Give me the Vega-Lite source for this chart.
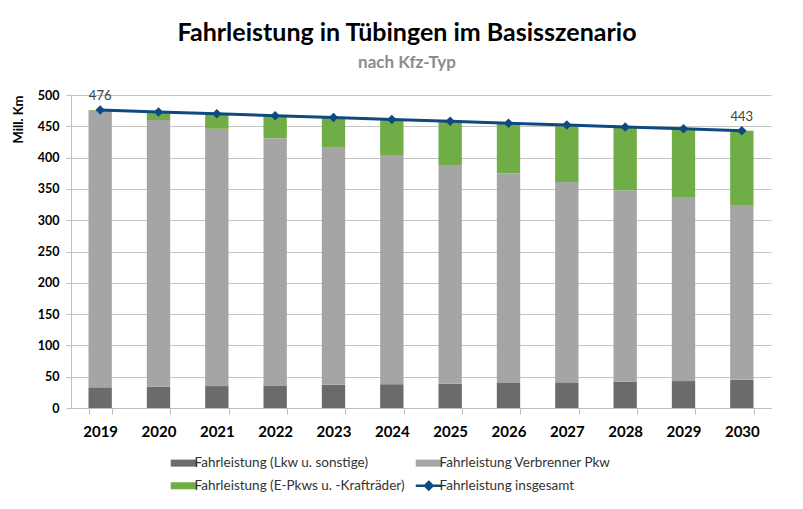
{
  "$schema": "https://vega.github.io/schema/vega-lite/v6.json",
  "width": 700,
  "height": 313,
  "autosize": {"type": "none"},
  "padding": {"left": 71, "top": 95, "right": 32, "bottom": 101},
  "background": "white",
  "title": {
    "text": "Fahrleistung in Tübingen im Basisszenario",
    "subtitle": "nach Kfz-Typ",
    "font": "Lato", "fontSize": 25, "fontWeight": "bold", "color": "#000000",
    "subtitleFont": "Lato", "subtitleFontSize": 17, "subtitleFontWeight": "bold", "subtitleColor": "#8c8c8c",
    "anchor": "middle", "dx": -14, "offset": 18, "subtitlePadding": 9
  },
  "config": {
    "view": {"stroke": null},
    "axis": {"labelFont": "Lato", "titleFont": "Lato"},
    "legend": {"labelFont": "Lato"}
  },
  "datasets": {
    "bars": [
      {"year": "2019", "serie": "Fahrleistung (Lkw u. sonstige)", "k": 1, "value": 33},
      {"year": "2019", "serie": "Fahrleistung Verbrenner Pkw", "k": 2, "value": 442},
      {"year": "2019", "serie": "Fahrleistung (E-Pkws u. -Krafträder)", "k": 3, "value": 1},
      {"year": "2020", "serie": "Fahrleistung (Lkw u. sonstige)", "k": 1, "value": 34},
      {"year": "2020", "serie": "Fahrleistung Verbrenner Pkw", "k": 2, "value": 426},
      {"year": "2020", "serie": "Fahrleistung (E-Pkws u. -Krafträder)", "k": 3, "value": 13},
      {"year": "2021", "serie": "Fahrleistung (Lkw u. sonstige)", "k": 1, "value": 35},
      {"year": "2021", "serie": "Fahrleistung Verbrenner Pkw", "k": 2, "value": 411},
      {"year": "2021", "serie": "Fahrleistung (E-Pkws u. -Krafträder)", "k": 3, "value": 24},
      {"year": "2022", "serie": "Fahrleistung (Lkw u. sonstige)", "k": 1, "value": 36},
      {"year": "2022", "serie": "Fahrleistung Verbrenner Pkw", "k": 2, "value": 395},
      {"year": "2022", "serie": "Fahrleistung (E-Pkws u. -Krafträder)", "k": 3, "value": 36},
      {"year": "2023", "serie": "Fahrleistung (Lkw u. sonstige)", "k": 1, "value": 37},
      {"year": "2023", "serie": "Fahrleistung Verbrenner Pkw", "k": 2, "value": 380},
      {"year": "2023", "serie": "Fahrleistung (E-Pkws u. -Krafträder)", "k": 3, "value": 47},
      {"year": "2024", "serie": "Fahrleistung (Lkw u. sonstige)", "k": 1, "value": 38},
      {"year": "2024", "serie": "Fahrleistung Verbrenner Pkw", "k": 2, "value": 365},
      {"year": "2024", "serie": "Fahrleistung (E-Pkws u. -Krafträder)", "k": 3, "value": 58},
      {"year": "2025", "serie": "Fahrleistung (Lkw u. sonstige)", "k": 1, "value": 39},
      {"year": "2025", "serie": "Fahrleistung Verbrenner Pkw", "k": 2, "value": 349},
      {"year": "2025", "serie": "Fahrleistung (E-Pkws u. -Krafträder)", "k": 3, "value": 70},
      {"year": "2026", "serie": "Fahrleistung (Lkw u. sonstige)", "k": 1, "value": 40},
      {"year": "2026", "serie": "Fahrleistung Verbrenner Pkw", "k": 2, "value": 335},
      {"year": "2026", "serie": "Fahrleistung (E-Pkws u. -Krafträder)", "k": 3, "value": 80},
      {"year": "2027", "serie": "Fahrleistung (Lkw u. sonstige)", "k": 1, "value": 41},
      {"year": "2027", "serie": "Fahrleistung Verbrenner Pkw", "k": 2, "value": 320},
      {"year": "2027", "serie": "Fahrleistung (E-Pkws u. -Krafträder)", "k": 3, "value": 91},
      {"year": "2028", "serie": "Fahrleistung (Lkw u. sonstige)", "k": 1, "value": 42},
      {"year": "2028", "serie": "Fahrleistung Verbrenner Pkw", "k": 2, "value": 306},
      {"year": "2028", "serie": "Fahrleistung (E-Pkws u. -Krafträder)", "k": 3, "value": 101},
      {"year": "2029", "serie": "Fahrleistung (Lkw u. sonstige)", "k": 1, "value": 43},
      {"year": "2029", "serie": "Fahrleistung Verbrenner Pkw", "k": 2, "value": 293},
      {"year": "2029", "serie": "Fahrleistung (E-Pkws u. -Krafträder)", "k": 3, "value": 110},
      {"year": "2030", "serie": "Fahrleistung (Lkw u. sonstige)", "k": 1, "value": 45},
      {"year": "2030", "serie": "Fahrleistung Verbrenner Pkw", "k": 2, "value": 278},
      {"year": "2030", "serie": "Fahrleistung (E-Pkws u. -Krafträder)", "k": 3, "value": 120}
    ],
    "total": [
      {"year": "2019", "serie": "Fahrleistung insgesamt", "value": 476},
      {"year": "2020", "serie": "Fahrleistung insgesamt", "value": 473},
      {"year": "2021", "serie": "Fahrleistung insgesamt", "value": 470},
      {"year": "2022", "serie": "Fahrleistung insgesamt", "value": 467},
      {"year": "2023", "serie": "Fahrleistung insgesamt", "value": 464},
      {"year": "2024", "serie": "Fahrleistung insgesamt", "value": 461},
      {"year": "2025", "serie": "Fahrleistung insgesamt", "value": 458},
      {"year": "2026", "serie": "Fahrleistung insgesamt", "value": 455},
      {"year": "2027", "serie": "Fahrleistung insgesamt", "value": 452},
      {"year": "2028", "serie": "Fahrleistung insgesamt", "value": 449},
      {"year": "2029", "serie": "Fahrleistung insgesamt", "value": 446},
      {"year": "2030", "serie": "Fahrleistung insgesamt", "value": 443}
    ]
  },
  "encoding": {
    "x": {
      "field": "year", "type": "ordinal",
      "scale": {"paddingInner": 0.6, "paddingOuter": 0.3},
      "axis": {
        "title": null, "labelAngle": 0, "labelFontSize": 15, "labelFontWeight": "bold", "labelColor": "#000000",
        "labelPadding": 10, "tickBand": "extent", "tickSize": 6, "tickColor": "#bfbfbf",
        "domainColor": "#bfbfbf", "grid": false
      }
    },
    "y": {
      "field": "value", "type": "quantitative",
      "scale": {"domain": [0, 500], "nice": false},
      "axis": {
        "title": "Mill. Km", "titleFontSize": 13, "titleFontWeight": "bold", "titleColor": "#000000",
        "titleAnchor": "end", "titlePadding": 12,
        "values": [0, 50, 100, 150, 200, 250, 300, 350, 400, 450, 500],
        "labelFontSize": 12.5, "labelFontWeight": "bold", "labelColor": "#000000", "labelPadding": 7,
        "tickSize": 5, "tickColor": "#bfbfbf", "domainColor": "#bfbfbf",
        "grid": true, "gridColor": "#c4c4c4"
      }
    }
  },
  "layer": [
    {
      "data": {"name": "bars"},
      "mark": {"type": "bar"},
      "encoding": {
        "y": {"field": "value", "type": "quantitative", "stack": "zero"},
        "order": {"field": "k", "type": "quantitative"},
        "color": {
          "field": "serie", "type": "nominal",
          "scale": {
            "domain": ["Fahrleistung (Lkw u. sonstige)", "Fahrleistung Verbrenner Pkw", "Fahrleistung (E-Pkws u. -Krafträder)", "Fahrleistung insgesamt"],
            "range": ["#6b6b6b", "#a5a5a5", "#70ad47", "#0e4a80"]
          },
          "legend": {
            "title": null, "orient": "none", "legendX": 106, "legendY": 361,
            "columns": 2, "direction": "horizontal", "columnPadding": 5, "rowPadding": 7,
            "symbolSize": 625, "labelOffset": 4, "labelFontSize": 13.5, "labelColor": "#333333", "labelLimit": 400,
            "symbolOpacity": 1,
            "encode": {
              "symbols": {
                "update": {
                  "shape": {"signal": "datum.value === 'Fahrleistung insgesamt' ? 'M-1.04,0H1.04M0,-0.3L0.3,0L0,0.3L-0.3,0Z' : 'M-1.04,-0.28H1.04V0.28H-1.04Z'"},
                  "strokeWidth": {"signal": "datum.value === 'Fahrleistung insgesamt' ? 2.5 : 0"},
                  "fill": {"signal": "scale('color', datum.value)"},
                  "stroke": {"signal": "scale('color', datum.value)"},
                  "opacity": {"value": 1}
                }
              }
            }
          }
        }
      }
    },
    {
      "data": {"name": "total"},
      "mark": {"type": "line", "strokeWidth": 3},
      "encoding": {
        "color": {"field": "serie", "type": "nominal"}
      }
    },
    {
      "data": {"name": "total"},
      "mark": {"type": "point", "shape": "diamond", "filled": true, "size": 90, "color": "#0e4a80", "opacity": 1},
      "encoding": {}
    },
    {
      "data": {"name": "total"},
      "transform": [{"filter": "datum.year == '2019' || datum.year == '2030'"}],
      "mark": {"type": "text", "baseline": "bottom", "dy": -7, "font": "Lato", "fontSize": 13, "color": "#404040"},
      "encoding": {"text": {"field": "value", "type": "quantitative"}}
    }
  ]
}
